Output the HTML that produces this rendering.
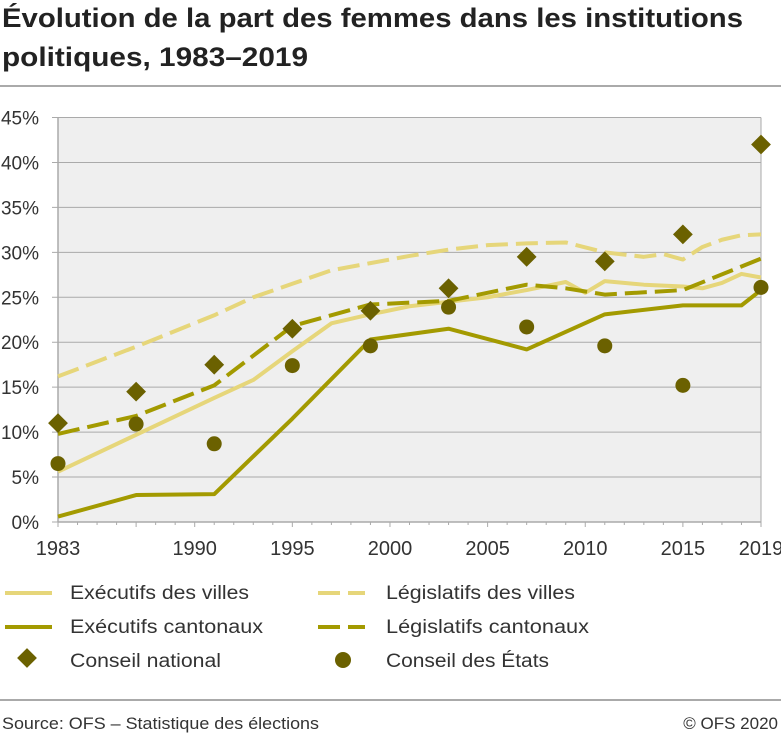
<!DOCTYPE html>
<html><head><meta charset="utf-8"><style>
body{margin:0;background:#fff;font-family:"Liberation Sans",sans-serif;}
svg text{font-family:"Liberation Sans",sans-serif;}
</style></head><body>
<svg width="781" height="736" viewBox="0 0 781 736">
<text x="2" y="27" font-size="27" font-weight="bold" fill="#222" textLength="741" lengthAdjust="spacingAndGlyphs">Évolution de la part des femmes dans les institutions</text>
<text x="2" y="66" font-size="27" font-weight="bold" fill="#222" textLength="306" lengthAdjust="spacingAndGlyphs">politiques, 1983–2019</text>
<line x1="0" y1="86" x2="781" y2="86" stroke="#555" stroke-width="1"/>
<rect x="58" y="117.5" width="703" height="404.5" fill="#efefef"/>
<g id="grid"></g><g id="axes"></g><g id="series"></g>
<g font-size="19" fill="#333">
<line x1="5" y1="593" x2="52" y2="593" stroke="#e6d67a" stroke-width="4"/>
<text x="70" y="599" textLength="179" lengthAdjust="spacingAndGlyphs">Exécutifs des villes</text>
<line x1="318" y1="593" x2="365" y2="593" stroke="#e6d67a" stroke-width="4" stroke-dasharray="22,8"/>
<text x="386" y="599" textLength="189" lengthAdjust="spacingAndGlyphs">Législatifs des villes</text>
<line x1="5" y1="627" x2="52" y2="627" stroke="#a39a00" stroke-width="4"/>
<text x="70" y="633" textLength="193" lengthAdjust="spacingAndGlyphs">Exécutifs cantonaux</text>
<line x1="318" y1="627" x2="365" y2="627" stroke="#a39a00" stroke-width="4" stroke-dasharray="22,8"/>
<text x="386" y="633" textLength="203" lengthAdjust="spacingAndGlyphs">Législatifs cantonaux</text>
<rect x="20" y="651" width="14" height="14" fill="#6b6100" transform="rotate(45 27 658)"/>
<text x="70" y="667" textLength="151" lengthAdjust="spacingAndGlyphs">Conseil national</text>
<circle cx="343" cy="660" r="8" fill="#6b6100"/>
<text x="386" y="667" textLength="163" lengthAdjust="spacingAndGlyphs">Conseil des États</text>
</g>
<line x1="0" y1="700" x2="781" y2="700" stroke="#555" stroke-width="1"/>
<text x="2" y="729" font-size="17" fill="#333" textLength="317" lengthAdjust="spacingAndGlyphs">Source: OFS – Statistique des élections</text>
<text x="778" y="729" font-size="17" fill="#333" text-anchor="end">© OFS 2020</text>
</svg>
<script>
const yTicks=[0,5,10,15,20,25,30,35,40,45];
const xTickLabels=[1983,1990,1995,2000,2005,2010,2015,2019];
const exVillesYears=[1983,1987,1991,1993,1995,1997,1999,2001,2003,2005,2007,2009,2010,2011,2013,2015,2016,2017,2018,2019];
const exVillesVals=[5.6,9.7,13.8,15.8,19.0,22.1,23.1,24.0,24.5,25.0,25.8,26.7,25.5,26.8,26.4,26.2,26.0,26.6,27.6,27.2];
const legVillesYears=[1983,1987,1991,1993,1995,1997,1999,2001,2003,2005,2007,2009,2011,2013,2014,2015,2016,2017,2018,2019];
const legVillesVals=[16.2,19.5,23.0,25.0,26.5,28.0,28.8,29.6,30.3,30.8,31.0,31.1,30.0,29.5,29.8,29.2,30.6,31.4,31.9,32.0];
const exCantYears=[1983,1987,1991,1995,1999,2003,2007,2011,2015,2018,2019];
const exCantVals=[0.6,3.0,3.1,11.5,20.3,21.5,19.2,23.1,24.1,24.1,25.8];
const legCantYears=[1983,1987,1991,1995,1999,2003,2007,2009,2011,2015,2019];
const legCantVals=[9.8,11.8,15.2,21.8,24.2,24.6,26.4,26.0,25.3,25.8,29.3];
const cnYears=[1983,1987,1991,1995,1999,2003,2007,2011,2015,2019];
const cnVals=[11.0,14.5,17.5,21.5,23.5,26.0,29.5,29.0,32.0,42.0];
const ceYears=[1983,1987,1991,1995,1999,2003,2007,2011,2015,2019];
const ceVals=[6.5,10.9,8.7,17.4,19.6,23.9,21.7,19.6,15.2,26.1];

const NS='http://www.w3.org/2000/svg';
const X=y=>58+(y-1983)*(703/36);
const Y=v=>522-v*(404.5/45);
function mk(tag,attrs,parent){const e=document.createElementNS(NS,tag);for(const k in attrs)e.setAttribute(k,attrs[k]);document.getElementById(parent).appendChild(e);return e;}
yTicks.forEach(t=>{
  const l=mk('line',{x1:52,x2:761,y1:Y(t),y2:Y(t),stroke:'#aaa','stroke-width':1},'grid');
  
  
  const tx=mk('text',{x:39,y:Y(t)+7,'font-size':19,fill:'#333','text-anchor':'end'},'axes');
  tx.textContent=t+'%';
  
  
});
let ax=mk('line',{x1:58,x2:58,y1:117.5,y2:522,stroke:'#aaa','stroke-width':1.5},'axes');


ax=mk('line',{x1:761,x2:761,y1:117.5,y2:522,stroke:'#aaa','stroke-width':1},'axes');


ax=mk('line',{x1:58,x2:761,y1:522,y2:522,stroke:'#aaa','stroke-width':1.5},'axes');


for(let y=1983;y<=2019;y++){
  const major=xTickLabels.includes(y)||y===1987;
  const t=mk('line',{x1:X(y),x2:X(y),y1:522,y2:major?527:525,stroke:'#aaa','stroke-width':1},'axes');
  
  
}
xTickLabels.forEach(y=>{
  const tx=mk('text',{x:X(y),y:555,'font-size':20,fill:'#333','text-anchor':'middle'},'axes');
  tx.textContent=y;
  
  
});
function line(ys,vs,color,dash,name){
  const p=mk('polyline',{points:ys.map((y,i)=>X(y)+','+Y(vs[i])).join(' '),fill:'none',stroke:color,'stroke-width':4,'stroke-dasharray':dash,'stroke-linejoin':'round'},'series');
  
  
}
line(legVillesYears,legVillesVals,'#e6d67a','22,8','line-legislatifs-villes');
line(exVillesYears,exVillesVals,'#e6d67a','none','line-executifs-villes');
line(exCantYears,exCantVals,'#a39a00','none','line-executifs-cantonaux');
line(legCantYears,legCantVals,'#a39a00','22,8','line-legislatifs-cantonaux');
cnYears.forEach((y,i)=>{
  const cx=X(y),cy=Y(cnVals[i]);
  const d=mk('rect',{x:cx-7,y:cy-7,width:14,height:14,fill:'#6b6100',transform:`rotate(45 ${cx} ${cy})`},'series');
  
  
});
ceYears.forEach((y,i)=>{
  const c=mk('circle',{cx:X(y),cy:Y(ceVals[i]),r:7.5,fill:'#6b6100'},'series');
  
  
});
</script>
</body></html>
